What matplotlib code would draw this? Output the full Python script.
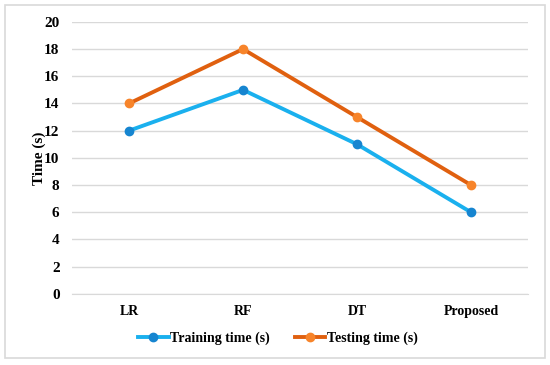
import matplotlib.pyplot as plt
from matplotlib.patches import Rectangle

methods = ['LR', 'RF', 'DT', 'Proposed']
training_time = [12, 15, 11, 6]
testing_time = [14, 18, 13, 8]

plt.rcParams['font.family'] = ['Liberation Serif', 'DejaVu Serif']
plt.rcParams['font.weight'] = 'bold'

fig = plt.figure(figsize=(5.5, 3.65), dpi=100)
ax = fig.add_axes([0.131, 0.195, 0.829, 0.745])

# outer chart border
fig.patches.append(Rectangle((0.009, 0.019), 0.982, 0.967, transform=fig.transFigure,
                             fill=False, edgecolor='#d9d9d9', linewidth=1.2))

x = range(len(methods))
ax.plot(x, training_time, color='#1ab0ee', linewidth=2.8, marker='o', markersize=6,
        markerfacecolor='#1685d0', markeredgecolor='#1685d0', label='Training time (s)')
ax.plot(x, testing_time, color='#e0600f', linewidth=2.8, marker='o', markersize=6,
        markerfacecolor='#f7842a', markeredgecolor='#f7842a', label='Testing time (s)')

ax.set_xlim(-0.5, 3.5)
ax.set_ylim(0, 20)
ax.set_yticks(range(0, 21, 2))
ax.set_xticks(list(x))
ax.set_xticklabels(methods)
ax.grid(axis='y', color='#d9d9d9', linewidth=1)
ax.set_axisbelow(True)
for s in ['top', 'right', 'left']:
    ax.spines[s].set_visible(False)
ax.spines['bottom'].set_color('#d9d9d9')
ax.tick_params(axis='x', length=0, labelsize=10, pad=8)
ax.tick_params(axis='y', length=0, labelsize=11, pad=9)
ax.set_ylabel('Time (s)', fontsize=11, fontweight='bold', labelpad=-1)

leg = fig.legend(loc='center', bbox_to_anchor=(0.505, 0.073), ncol=2, frameon=False,
                 fontsize=10, handlelength=2.2, handletextpad=0.1, columnspacing=1.8)

fig.savefig('out.png', dpi=100)
